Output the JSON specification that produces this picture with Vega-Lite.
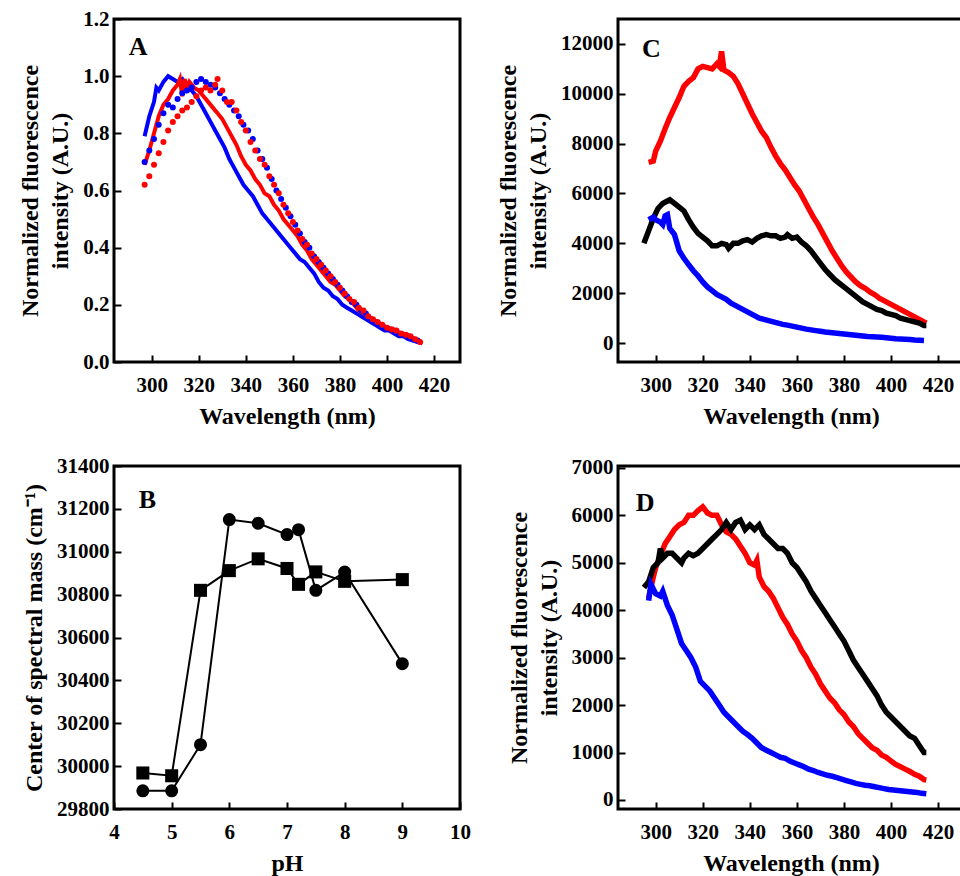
{
  "$schema": "https://vega.github.io/schema/vega-lite/v6.json",
  "background": "white",
  "padding": {"left": 17, "top": 6, "right": 0, "bottom": 0},
  "columns": 2,
  "bounds": "flush",
  "spacing": {"row": 104, "column": 158},
  "config": {
    "font": "Liberation Serif",
    "view": {"stroke": "black", "strokeWidth": 3},
    "axis": {
      "domain": false, "grid": false, "labelFlush": false,
      "tickSize": -7, "tickWidth": 2, "tickColor": "black",
      "labelFont": "Liberation Serif", "labelFontWeight": "bold", "labelFontSize": 21, "labelColor": "black",
      "titleFont": "Liberation Serif", "titleFontWeight": "bold", "titleFontSize": 24, "titleColor": "black",
      "titleLineHeight": 30
    },
    "axisX": {"labelPadding": 19, "titlePadding": 9},
    "axisY": {"labelPadding": 12, "titlePadding": 10},
    "text": {"font": "Liberation Serif", "fontWeight": "bold", "fontSize": 26, "align": "left", "baseline": "alphabetic", "color": "black"}
  },
  "datasets": {
    "A_lines": [
      {"s":"blue","wl":297,"v":0.79},{"s":"blue","wl":299,"v":0.86},{"s":"blue","wl":301,"v":0.91},{"s":"blue","wl":302,"v":0.96},{"s":"blue","wl":303,"v":0.95},{"s":"blue","wl":305,"v":0.98},{"s":"blue","wl":307,"v":1.0},{"s":"blue","wl":309,"v":0.99},{"s":"blue","wl":311,"v":0.98},{"s":"blue","wl":313,"v":0.99},{"s":"blue","wl":315,"v":0.96},{"s":"blue","wl":317,"v":0.95},{"s":"blue","wl":319,"v":0.93},{"s":"blue","wl":321,"v":0.9},{"s":"blue","wl":323,"v":0.87},{"s":"blue","wl":325,"v":0.84},{"s":"blue","wl":327,"v":0.81},{"s":"blue","wl":329,"v":0.78},{"s":"blue","wl":331,"v":0.75},{"s":"blue","wl":333,"v":0.71},{"s":"blue","wl":335,"v":0.68},{"s":"blue","wl":337,"v":0.65},{"s":"blue","wl":339,"v":0.62},{"s":"blue","wl":341,"v":0.6},{"s":"blue","wl":343,"v":0.58},{"s":"blue","wl":345,"v":0.55},{"s":"blue","wl":347,"v":0.52},{"s":"blue","wl":349,"v":0.5},{"s":"blue","wl":351,"v":0.48},{"s":"blue","wl":353,"v":0.46},{"s":"blue","wl":355,"v":0.44},{"s":"blue","wl":357,"v":0.42},{"s":"blue","wl":359,"v":0.4},{"s":"blue","wl":361,"v":0.38},{"s":"blue","wl":363,"v":0.36},{"s":"blue","wl":365,"v":0.35},{"s":"blue","wl":367,"v":0.33},{"s":"blue","wl":369,"v":0.31},{"s":"blue","wl":371,"v":0.28},{"s":"blue","wl":373,"v":0.26},{"s":"blue","wl":375,"v":0.25},{"s":"blue","wl":377,"v":0.23},{"s":"blue","wl":379,"v":0.22},{"s":"blue","wl":381,"v":0.2},{"s":"blue","wl":383,"v":0.19},{"s":"blue","wl":385,"v":0.18},{"s":"blue","wl":387,"v":0.17},{"s":"blue","wl":389,"v":0.16},{"s":"blue","wl":391,"v":0.15},{"s":"blue","wl":393,"v":0.14},{"s":"blue","wl":395,"v":0.13},{"s":"blue","wl":397,"v":0.12},{"s":"blue","wl":399,"v":0.11},{"s":"blue","wl":401,"v":0.11},{"s":"blue","wl":403,"v":0.1},{"s":"blue","wl":405,"v":0.09},{"s":"blue","wl":407,"v":0.09},{"s":"blue","wl":409,"v":0.08},{"s":"blue","wl":411,"v":0.075},{"s":"blue","wl":413,"v":0.07},{"s":"blue","wl":415,"v":0.065},
      {"s":"red","wl":297,"v":0.69},{"s":"red","wl":299,"v":0.74},{"s":"red","wl":301,"v":0.8},{"s":"red","wl":303,"v":0.86},{"s":"red","wl":305,"v":0.9},{"s":"red","wl":307,"v":0.92},{"s":"red","wl":309,"v":0.95},{"s":"red","wl":311,"v":0.97},{"s":"red","wl":312,"v":0.99},{"s":"red","wl":313,"v":0.93},{"s":"red","wl":314,"v":0.99},{"s":"red","wl":315,"v":0.96},{"s":"red","wl":316,"v":0.98},{"s":"red","wl":318,"v":0.96},{"s":"red","wl":320,"v":0.95},{"s":"red","wl":322,"v":0.93},{"s":"red","wl":324,"v":0.91},{"s":"red","wl":326,"v":0.89},{"s":"red","wl":328,"v":0.87},{"s":"red","wl":330,"v":0.85},{"s":"red","wl":332,"v":0.82},{"s":"red","wl":334,"v":0.79},{"s":"red","wl":336,"v":0.76},{"s":"red","wl":338,"v":0.72},{"s":"red","wl":340,"v":0.69},{"s":"red","wl":342,"v":0.67},{"s":"red","wl":344,"v":0.64},{"s":"red","wl":346,"v":0.62},{"s":"red","wl":348,"v":0.59},{"s":"red","wl":350,"v":0.58},{"s":"red","wl":352,"v":0.55},{"s":"red","wl":354,"v":0.53},{"s":"red","wl":356,"v":0.5},{"s":"red","wl":358,"v":0.48},{"s":"red","wl":360,"v":0.46},{"s":"red","wl":362,"v":0.44},{"s":"red","wl":364,"v":0.41},{"s":"red","wl":366,"v":0.39},{"s":"red","wl":368,"v":0.36},{"s":"red","wl":370,"v":0.34},{"s":"red","wl":372,"v":0.32},{"s":"red","wl":374,"v":0.3},{"s":"red","wl":376,"v":0.28},{"s":"red","wl":378,"v":0.27},{"s":"red","wl":380,"v":0.25},{"s":"red","wl":382,"v":0.23},{"s":"red","wl":384,"v":0.22},{"s":"red","wl":386,"v":0.2},{"s":"red","wl":388,"v":0.18},{"s":"red","wl":390,"v":0.17},{"s":"red","wl":392,"v":0.16},{"s":"red","wl":394,"v":0.15},{"s":"red","wl":396,"v":0.14},{"s":"red","wl":398,"v":0.13},{"s":"red","wl":400,"v":0.12},{"s":"red","wl":402,"v":0.11},{"s":"red","wl":404,"v":0.105},{"s":"red","wl":406,"v":0.1},{"s":"red","wl":408,"v":0.09},{"s":"red","wl":410,"v":0.085},{"s":"red","wl":412,"v":0.08},{"s":"red","wl":414,"v":0.07},{"s":"red","wl":415,"v":0.065}
    ],
    "A_dots": [
      {"s":"blue","wl":297,"v":0.7},{"s":"blue","wl":299,"v":0.74},{"s":"blue","wl":301,"v":0.78},{"s":"blue","wl":303,"v":0.83},{"s":"blue","wl":305,"v":0.87},{"s":"blue","wl":307,"v":0.9},{"s":"blue","wl":309,"v":0.89},{"s":"blue","wl":311,"v":0.92},{"s":"blue","wl":313,"v":0.94},{"s":"blue","wl":315,"v":0.95},{"s":"blue","wl":317,"v":0.96},{"s":"blue","wl":319,"v":0.98},{"s":"blue","wl":321,"v":0.99},{"s":"blue","wl":323,"v":0.98},{"s":"blue","wl":325,"v":0.97},{"s":"blue","wl":327,"v":0.96},{"s":"blue","wl":329,"v":0.94},{"s":"blue","wl":331,"v":0.92},{"s":"blue","wl":333,"v":0.9},{"s":"blue","wl":335,"v":0.88},{"s":"blue","wl":337,"v":0.86},{"s":"blue","wl":339,"v":0.83},{"s":"blue","wl":341,"v":0.81},{"s":"blue","wl":343,"v":0.78},{"s":"blue","wl":345,"v":0.74},{"s":"blue","wl":347,"v":0.71},{"s":"blue","wl":349,"v":0.68},{"s":"blue","wl":351,"v":0.64},{"s":"blue","wl":353,"v":0.6},{"s":"blue","wl":355,"v":0.57},{"s":"blue","wl":357,"v":0.54},{"s":"blue","wl":359,"v":0.51},{"s":"blue","wl":361,"v":0.48},{"s":"blue","wl":363,"v":0.45},{"s":"blue","wl":365,"v":0.42},{"s":"blue","wl":367,"v":0.4},{"s":"blue","wl":369,"v":0.37},{"s":"blue","wl":371,"v":0.35},{"s":"blue","wl":373,"v":0.33},{"s":"blue","wl":375,"v":0.31},{"s":"blue","wl":377,"v":0.29},{"s":"blue","wl":379,"v":0.27},{"s":"blue","wl":381,"v":0.25},{"s":"blue","wl":383,"v":0.23},{"s":"blue","wl":385,"v":0.21},{"s":"blue","wl":387,"v":0.2},{"s":"blue","wl":389,"v":0.18},{"s":"blue","wl":391,"v":0.17},{"s":"blue","wl":393,"v":0.15},{"s":"blue","wl":395,"v":0.14},{"s":"blue","wl":397,"v":0.13},{"s":"blue","wl":399,"v":0.12},{"s":"blue","wl":401,"v":0.115},{"s":"blue","wl":403,"v":0.11},{"s":"blue","wl":405,"v":0.1},{"s":"blue","wl":407,"v":0.095},{"s":"blue","wl":409,"v":0.09},{"s":"blue","wl":411,"v":0.08},{"s":"blue","wl":413,"v":0.075},
      {"s":"red","wl":297,"v":0.62},{"s":"red","wl":299,"v":0.65},{"s":"red","wl":301,"v":0.69},{"s":"red","wl":303,"v":0.73},{"s":"red","wl":305,"v":0.77},{"s":"red","wl":307,"v":0.81},{"s":"red","wl":309,"v":0.84},{"s":"red","wl":311,"v":0.86},{"s":"red","wl":313,"v":0.88},{"s":"red","wl":315,"v":0.89},{"s":"red","wl":317,"v":0.91},{"s":"red","wl":319,"v":0.93},{"s":"red","wl":321,"v":0.95},{"s":"red","wl":323,"v":0.96},{"s":"red","wl":325,"v":0.95},{"s":"red","wl":327,"v":0.97},{"s":"red","wl":328,"v":0.99},{"s":"red","wl":330,"v":0.95},{"s":"red","wl":332,"v":0.91},{"s":"red","wl":334,"v":0.91},{"s":"red","wl":336,"v":0.88},{"s":"red","wl":338,"v":0.84},{"s":"red","wl":340,"v":0.81},{"s":"red","wl":342,"v":0.77},{"s":"red","wl":344,"v":0.74},{"s":"red","wl":346,"v":0.71},{"s":"red","wl":348,"v":0.69},{"s":"red","wl":350,"v":0.65},{"s":"red","wl":352,"v":0.62},{"s":"red","wl":354,"v":0.59},{"s":"red","wl":356,"v":0.55},{"s":"red","wl":358,"v":0.52},{"s":"red","wl":360,"v":0.49},{"s":"red","wl":362,"v":0.46},{"s":"red","wl":364,"v":0.43},{"s":"red","wl":366,"v":0.41},{"s":"red","wl":368,"v":0.38},{"s":"red","wl":370,"v":0.36},{"s":"red","wl":372,"v":0.34},{"s":"red","wl":374,"v":0.32},{"s":"red","wl":376,"v":0.3},{"s":"red","wl":378,"v":0.28},{"s":"red","wl":380,"v":0.26},{"s":"red","wl":382,"v":0.24},{"s":"red","wl":384,"v":0.22},{"s":"red","wl":386,"v":0.21},{"s":"red","wl":388,"v":0.19},{"s":"red","wl":390,"v":0.18},{"s":"red","wl":392,"v":0.16},{"s":"red","wl":394,"v":0.15},{"s":"red","wl":396,"v":0.14},{"s":"red","wl":398,"v":0.13},{"s":"red","wl":400,"v":0.12},{"s":"red","wl":402,"v":0.115},{"s":"red","wl":404,"v":0.11},{"s":"red","wl":406,"v":0.1},{"s":"red","wl":408,"v":0.095},{"s":"red","wl":410,"v":0.09},{"s":"red","wl":412,"v":0.08},{"s":"red","wl":414,"v":0.07}
    ],
    "C": [
      {"s":"red","wl":297,"v":7250},{"s":"red","wl":299,"v":7300},{"s":"red","wl":300,"v":7700},{"s":"red","wl":302,"v":8100},{"s":"red","wl":304,"v":8600},{"s":"red","wl":306,"v":9050},{"s":"red","wl":308,"v":9450},{"s":"red","wl":310,"v":9850},{"s":"red","wl":312,"v":10300},{"s":"red","wl":314,"v":10500},{"s":"red","wl":316,"v":10650},{"s":"red","wl":318,"v":11000},{"s":"red","wl":320,"v":11100},{"s":"red","wl":322,"v":11050},{"s":"red","wl":324,"v":11000},{"s":"red","wl":326,"v":11200},{"s":"red","wl":327,"v":11100},{"s":"red","wl":328,"v":11700},{"s":"red","wl":329,"v":10950},{"s":"red","wl":331,"v":10850},{"s":"red","wl":333,"v":10700},{"s":"red","wl":335,"v":10400},{"s":"red","wl":337,"v":10000},{"s":"red","wl":339,"v":9600},{"s":"red","wl":341,"v":9200},{"s":"red","wl":343,"v":8850},{"s":"red","wl":345,"v":8500},{"s":"red","wl":347,"v":8250},{"s":"red","wl":349,"v":7850},{"s":"red","wl":351,"v":7500},{"s":"red","wl":353,"v":7200},{"s":"red","wl":355,"v":6950},{"s":"red","wl":357,"v":6650},{"s":"red","wl":359,"v":6350},{"s":"red","wl":361,"v":6100},{"s":"red","wl":363,"v":5750},{"s":"red","wl":365,"v":5400},{"s":"red","wl":367,"v":5050},{"s":"red","wl":369,"v":4750},{"s":"red","wl":371,"v":4400},{"s":"red","wl":373,"v":4050},{"s":"red","wl":375,"v":3700},{"s":"red","wl":377,"v":3400},{"s":"red","wl":379,"v":3100},{"s":"red","wl":381,"v":2850},{"s":"red","wl":383,"v":2650},{"s":"red","wl":385,"v":2450},{"s":"red","wl":387,"v":2300},{"s":"red","wl":389,"v":2200},{"s":"red","wl":391,"v":2050},{"s":"red","wl":393,"v":1950},{"s":"red","wl":395,"v":1800},{"s":"red","wl":397,"v":1700},{"s":"red","wl":399,"v":1600},{"s":"red","wl":401,"v":1500},{"s":"red","wl":403,"v":1400},{"s":"red","wl":405,"v":1300},{"s":"red","wl":407,"v":1200},{"s":"red","wl":409,"v":1100},{"s":"red","wl":411,"v":1000},{"s":"red","wl":413,"v":900},{"s":"red","wl":415,"v":800},
      {"s":"black","wl":295,"v":4000},{"s":"black","wl":297,"v":4500},{"s":"black","wl":299,"v":5000},{"s":"black","wl":301,"v":5400},{"s":"black","wl":303,"v":5600},{"s":"black","wl":305,"v":5700},{"s":"black","wl":306,"v":5750},{"s":"black","wl":308,"v":5600},{"s":"black","wl":310,"v":5450},{"s":"black","wl":312,"v":5300},{"s":"black","wl":314,"v":4950},{"s":"black","wl":316,"v":4650},{"s":"black","wl":318,"v":4400},{"s":"black","wl":320,"v":4250},{"s":"black","wl":322,"v":4100},{"s":"black","wl":324,"v":3900},{"s":"black","wl":326,"v":3900},{"s":"black","wl":328,"v":4000},{"s":"black","wl":330,"v":3950},{"s":"black","wl":331,"v":3800},{"s":"black","wl":333,"v":4000},{"s":"black","wl":335,"v":4000},{"s":"black","wl":337,"v":4100},{"s":"black","wl":339,"v":4150},{"s":"black","wl":341,"v":4050},{"s":"black","wl":343,"v":4200},{"s":"black","wl":345,"v":4300},{"s":"black","wl":347,"v":4350},{"s":"black","wl":349,"v":4300},{"s":"black","wl":351,"v":4300},{"s":"black","wl":353,"v":4200},{"s":"black","wl":355,"v":4250},{"s":"black","wl":356,"v":4350},{"s":"black","wl":358,"v":4200},{"s":"black","wl":360,"v":4250},{"s":"black","wl":362,"v":4050},{"s":"black","wl":364,"v":3900},{"s":"black","wl":366,"v":3700},{"s":"black","wl":368,"v":3450},{"s":"black","wl":370,"v":3200},{"s":"black","wl":372,"v":2950},{"s":"black","wl":374,"v":2750},{"s":"black","wl":376,"v":2550},{"s":"black","wl":378,"v":2400},{"s":"black","wl":380,"v":2250},{"s":"black","wl":382,"v":2100},{"s":"black","wl":384,"v":1950},{"s":"black","wl":386,"v":1800},{"s":"black","wl":388,"v":1650},{"s":"black","wl":390,"v":1550},{"s":"black","wl":392,"v":1450},{"s":"black","wl":394,"v":1350},{"s":"black","wl":396,"v":1300},{"s":"black","wl":398,"v":1200},{"s":"black","wl":400,"v":1150},{"s":"black","wl":402,"v":1100},{"s":"black","wl":404,"v":1000},{"s":"black","wl":406,"v":950},{"s":"black","wl":408,"v":900},{"s":"black","wl":410,"v":850},{"s":"black","wl":412,"v":800},{"s":"black","wl":414,"v":700},{"s":"black","wl":415,"v":700},
      {"s":"blue","wl":297,"v":4950},{"s":"blue","wl":299,"v":5050},{"s":"blue","wl":300,"v":4950},{"s":"blue","wl":302,"v":4850},{"s":"blue","wl":303,"v":4750},{"s":"blue","wl":304,"v":5100},{"s":"blue","wl":305,"v":5150},{"s":"blue","wl":306,"v":4600},{"s":"blue","wl":308,"v":4350},{"s":"blue","wl":310,"v":3700},{"s":"blue","wl":312,"v":3400},{"s":"blue","wl":314,"v":3150},{"s":"blue","wl":316,"v":2900},{"s":"blue","wl":318,"v":2700},{"s":"blue","wl":320,"v":2450},{"s":"blue","wl":322,"v":2250},{"s":"blue","wl":324,"v":2100},{"s":"blue","wl":326,"v":1950},{"s":"blue","wl":328,"v":1850},{"s":"blue","wl":330,"v":1750},{"s":"blue","wl":332,"v":1600},{"s":"blue","wl":334,"v":1500},{"s":"blue","wl":336,"v":1400},{"s":"blue","wl":338,"v":1300},{"s":"blue","wl":340,"v":1200},{"s":"blue","wl":342,"v":1100},{"s":"blue","wl":344,"v":1000},{"s":"blue","wl":346,"v":950},{"s":"blue","wl":348,"v":900},{"s":"blue","wl":350,"v":850},{"s":"blue","wl":352,"v":800},{"s":"blue","wl":354,"v":750},{"s":"blue","wl":356,"v":720},{"s":"blue","wl":358,"v":680},{"s":"blue","wl":360,"v":640},{"s":"blue","wl":362,"v":600},{"s":"blue","wl":364,"v":560},{"s":"blue","wl":366,"v":530},{"s":"blue","wl":368,"v":500},{"s":"blue","wl":370,"v":470},{"s":"blue","wl":372,"v":440},{"s":"blue","wl":374,"v":420},{"s":"blue","wl":376,"v":400},{"s":"blue","wl":378,"v":380},{"s":"blue","wl":380,"v":360},{"s":"blue","wl":382,"v":340},{"s":"blue","wl":384,"v":320},{"s":"blue","wl":386,"v":300},{"s":"blue","wl":388,"v":280},{"s":"blue","wl":390,"v":260},{"s":"blue","wl":392,"v":250},{"s":"blue","wl":394,"v":240},{"s":"blue","wl":396,"v":230},{"s":"blue","wl":398,"v":210},{"s":"blue","wl":400,"v":190},{"s":"blue","wl":402,"v":170},{"s":"blue","wl":404,"v":160},{"s":"blue","wl":406,"v":150},{"s":"blue","wl":408,"v":140},{"s":"blue","wl":410,"v":120},{"s":"blue","wl":412,"v":110},{"s":"blue","wl":414,"v":100}
    ],
    "B": [
      {"s":"circle","pH":4.5,"v":29885},{"s":"circle","pH":5,"v":29885},{"s":"circle","pH":5.5,"v":30100},{"s":"circle","pH":6,"v":31150},{"s":"circle","pH":6.5,"v":31133},{"s":"circle","pH":7,"v":31080},{"s":"circle","pH":7.2,"v":31103},{"s":"circle","pH":7.5,"v":30820},{"s":"circle","pH":8,"v":30905},{"s":"circle","pH":9,"v":30478},
      {"s":"square","pH":4.5,"v":29968},{"s":"square","pH":5,"v":29955},{"s":"square","pH":5.5,"v":30820},{"s":"square","pH":6,"v":30912},{"s":"square","pH":6.5,"v":30967},{"s":"square","pH":7,"v":30922},{"s":"square","pH":7.2,"v":30848},{"s":"square","pH":7.5,"v":30906},{"s":"square","pH":8,"v":30862},{"s":"square","pH":9,"v":30870}
    ],
    "D": [
      {"s":"red","wl":297,"v":4250},{"s":"red","wl":299,"v":4700},{"s":"red","wl":300,"v":4900},{"s":"red","wl":302,"v":5150},{"s":"red","wl":304,"v":5400},{"s":"red","wl":306,"v":5550},{"s":"red","wl":308,"v":5700},{"s":"red","wl":310,"v":5800},{"s":"red","wl":312,"v":5850},{"s":"red","wl":314,"v":6000},{"s":"red","wl":316,"v":6000},{"s":"red","wl":318,"v":6100},{"s":"red","wl":320,"v":6180},{"s":"red","wl":322,"v":6050},{"s":"red","wl":324,"v":6000},{"s":"red","wl":326,"v":6000},{"s":"red","wl":328,"v":5800},{"s":"red","wl":330,"v":5650},{"s":"red","wl":332,"v":5600},{"s":"red","wl":334,"v":5500},{"s":"red","wl":336,"v":5350},{"s":"red","wl":338,"v":5200},{"s":"red","wl":340,"v":5000},{"s":"red","wl":342,"v":4950},{"s":"red","wl":343,"v":5050},{"s":"red","wl":344,"v":4700},{"s":"red","wl":346,"v":4500},{"s":"red","wl":348,"v":4400},{"s":"red","wl":350,"v":4250},{"s":"red","wl":352,"v":4050},{"s":"red","wl":354,"v":3850},{"s":"red","wl":356,"v":3700},{"s":"red","wl":358,"v":3500},{"s":"red","wl":360,"v":3350},{"s":"red","wl":362,"v":3150},{"s":"red","wl":364,"v":3000},{"s":"red","wl":366,"v":2800},{"s":"red","wl":368,"v":2650},{"s":"red","wl":370,"v":2450},{"s":"red","wl":372,"v":2300},{"s":"red","wl":374,"v":2150},{"s":"red","wl":376,"v":2050},{"s":"red","wl":378,"v":1900},{"s":"red","wl":380,"v":1800},{"s":"red","wl":382,"v":1650},{"s":"red","wl":384,"v":1550},{"s":"red","wl":386,"v":1400},{"s":"red","wl":388,"v":1300},{"s":"red","wl":390,"v":1200},{"s":"red","wl":392,"v":1100},{"s":"red","wl":394,"v":1050},{"s":"red","wl":396,"v":950},{"s":"red","wl":398,"v":900},{"s":"red","wl":400,"v":820},{"s":"red","wl":402,"v":750},{"s":"red","wl":404,"v":700},{"s":"red","wl":406,"v":650},{"s":"red","wl":408,"v":600},{"s":"red","wl":410,"v":540},{"s":"red","wl":412,"v":500},{"s":"red","wl":414,"v":430},{"s":"red","wl":415,"v":420},
      {"s":"black","wl":295,"v":4480},{"s":"black","wl":297,"v":4600},{"s":"black","wl":299,"v":4900},{"s":"black","wl":301,"v":5000},{"s":"black","wl":302,"v":5300},{"s":"black","wl":303,"v":5100},{"s":"black","wl":305,"v":5200},{"s":"black","wl":307,"v":5200},{"s":"black","wl":309,"v":5100},{"s":"black","wl":311,"v":5000},{"s":"black","wl":312,"v":5100},{"s":"black","wl":314,"v":5200},{"s":"black","wl":316,"v":5150},{"s":"black","wl":318,"v":5200},{"s":"black","wl":320,"v":5300},{"s":"black","wl":322,"v":5400},{"s":"black","wl":324,"v":5500},{"s":"black","wl":326,"v":5600},{"s":"black","wl":328,"v":5700},{"s":"black","wl":330,"v":5850},{"s":"black","wl":332,"v":5700},{"s":"black","wl":334,"v":5850},{"s":"black","wl":336,"v":5900},{"s":"black","wl":338,"v":5700},{"s":"black","wl":340,"v":5800},{"s":"black","wl":342,"v":5700},{"s":"black","wl":344,"v":5800},{"s":"black","wl":346,"v":5600},{"s":"black","wl":348,"v":5500},{"s":"black","wl":350,"v":5400},{"s":"black","wl":352,"v":5300},{"s":"black","wl":354,"v":5300},{"s":"black","wl":356,"v":5200},{"s":"black","wl":358,"v":5000},{"s":"black","wl":360,"v":4900},{"s":"black","wl":362,"v":4750},{"s":"black","wl":364,"v":4600},{"s":"black","wl":366,"v":4400},{"s":"black","wl":368,"v":4250},{"s":"black","wl":370,"v":4100},{"s":"black","wl":372,"v":3950},{"s":"black","wl":374,"v":3800},{"s":"black","wl":376,"v":3650},{"s":"black","wl":378,"v":3500},{"s":"black","wl":380,"v":3350},{"s":"black","wl":382,"v":3150},{"s":"black","wl":384,"v":2950},{"s":"black","wl":386,"v":2800},{"s":"black","wl":388,"v":2650},{"s":"black","wl":390,"v":2500},{"s":"black","wl":392,"v":2350},{"s":"black","wl":394,"v":2200},{"s":"black","wl":396,"v":2000},{"s":"black","wl":398,"v":1850},{"s":"black","wl":400,"v":1750},{"s":"black","wl":402,"v":1650},{"s":"black","wl":404,"v":1550},{"s":"black","wl":406,"v":1450},{"s":"black","wl":408,"v":1350},{"s":"black","wl":410,"v":1300},{"s":"black","wl":412,"v":1150},{"s":"black","wl":414,"v":1000},{"s":"black","wl":415,"v":1000},
      {"s":"blue","wl":297,"v":4200},{"s":"blue","wl":298,"v":4550},{"s":"blue","wl":300,"v":4350},{"s":"blue","wl":302,"v":4300},{"s":"blue","wl":303,"v":4400},{"s":"blue","wl":305,"v":4100},{"s":"blue","wl":307,"v":3900},{"s":"blue","wl":309,"v":3600},{"s":"blue","wl":311,"v":3300},{"s":"blue","wl":313,"v":3150},{"s":"blue","wl":315,"v":3000},{"s":"blue","wl":317,"v":2800},{"s":"blue","wl":319,"v":2500},{"s":"blue","wl":321,"v":2400},{"s":"blue","wl":323,"v":2300},{"s":"blue","wl":325,"v":2150},{"s":"blue","wl":327,"v":2000},{"s":"blue","wl":329,"v":1850},{"s":"blue","wl":331,"v":1750},{"s":"blue","wl":333,"v":1650},{"s":"blue","wl":335,"v":1550},{"s":"blue","wl":337,"v":1450},{"s":"blue","wl":339,"v":1380},{"s":"blue","wl":341,"v":1300},{"s":"blue","wl":343,"v":1200},{"s":"blue","wl":345,"v":1100},{"s":"blue","wl":347,"v":1050},{"s":"blue","wl":349,"v":1000},{"s":"blue","wl":351,"v":950},{"s":"blue","wl":353,"v":900},{"s":"blue","wl":355,"v":880},{"s":"blue","wl":357,"v":820},{"s":"blue","wl":359,"v":780},{"s":"blue","wl":361,"v":740},{"s":"blue","wl":363,"v":700},{"s":"blue","wl":365,"v":650},{"s":"blue","wl":367,"v":620},{"s":"blue","wl":369,"v":580},{"s":"blue","wl":371,"v":550},{"s":"blue","wl":373,"v":520},{"s":"blue","wl":375,"v":500},{"s":"blue","wl":377,"v":470},{"s":"blue","wl":379,"v":440},{"s":"blue","wl":381,"v":410},{"s":"blue","wl":383,"v":380},{"s":"blue","wl":385,"v":350},{"s":"blue","wl":387,"v":330},{"s":"blue","wl":389,"v":310},{"s":"blue","wl":391,"v":300},{"s":"blue","wl":393,"v":280},{"s":"blue","wl":395,"v":260},{"s":"blue","wl":397,"v":240},{"s":"blue","wl":399,"v":220},{"s":"blue","wl":401,"v":210},{"s":"blue","wl":403,"v":200},{"s":"blue","wl":405,"v":190},{"s":"blue","wl":407,"v":180},{"s":"blue","wl":409,"v":170},{"s":"blue","wl":411,"v":160},{"s":"blue","wl":413,"v":140},{"s":"blue","wl":415,"v":130}
    ]
  },
  "concat": [
    {
      "width": 346, "height": 343,
      "layer": [
        {
          "data": {"name": "A_lines"},
          "mark": {"type": "line", "strokeWidth": 4},
          "encoding": {
            "x": {"field": "wl", "type": "quantitative", "scale": {"domain": [284, 431], "nice": false, "zero": false}, "axis": {"values": [300, 320, 340, 360, 380, 400, 420], "format": "d", "title": "Wavelength (nm)"}},
            "y": {"field": "v", "type": "quantitative", "scale": {"domain": [0, 1.2], "nice": false}, "axis": {"values": [0, 0.2, 0.4, 0.6, 0.8, 1.0, 1.2], "format": ".1f", "title": ["Normalized fluorescence", "intensity (A.U.)"]}},
            "color": {"field": "s", "type": "nominal", "scale": {"domain": ["red", "black", "blue"], "range": ["#ff0000", "#000000", "#0000ff"]}, "legend": null}
          }
        },
        {
          "data": {"name": "A_dots"},
          "mark": {"type": "circle", "size": 36, "opacity": 1},
          "encoding": {
            "x": {"field": "wl", "type": "quantitative"},
            "y": {"field": "v", "type": "quantitative"},
            "color": {"field": "s", "type": "nominal", "legend": null}
          }
        },
        {
          "data": {"values": [{"t": "A"}]},
          "mark": {"type": "text"},
          "encoding": {"x": {"datum": 290.3}, "y": {"datum": 1.074}, "text": {"field": "t"}}
        }
      ]
    },
    {
      "width": 346, "height": 343,
      "layer": [
        {
          "data": {"name": "C"},
          "mark": {"type": "line", "strokeWidth": 5.5},
          "encoding": {
            "x": {"field": "wl", "type": "quantitative", "scale": {"domain": [284, 431], "nice": false, "zero": false}, "axis": {"values": [300, 320, 340, 360, 380, 400, 420], "format": "d", "title": "Wavelength (nm)"}},
            "y": {"field": "v", "type": "quantitative", "scale": {"domain": [-760, 13000], "nice": false, "zero": false}, "axis": {"values": [0, 2000, 4000, 6000, 8000, 10000, 12000], "format": "d", "title": ["Normalized fluorescence", "intensity (A.U.)"]}},
            "color": {"field": "s", "type": "nominal", "scale": {"domain": ["red", "black", "blue"], "range": ["#ff0000", "#000000", "#0000ff"]}, "legend": null}
          }
        },
        {
          "data": {"values": [{"t": "C"}]},
          "mark": {"type": "text"},
          "encoding": {"x": {"datum": 294.2}, "y": {"datum": 11477}, "text": {"field": "t"}}
        }
      ]
    },
    {
      "width": 346, "height": 343,
      "layer": [
        {
          "data": {"name": "B"},
          "mark": {"type": "line", "strokeWidth": 2, "color": "black"},
          "encoding": {
            "x": {"field": "pH", "type": "quantitative", "scale": {"domain": [4, 10], "nice": false, "zero": false}, "axis": {"values": [4, 5, 6, 7, 8, 9, 10], "format": "d", "title": "pH"}},
            "y": {"field": "v", "type": "quantitative", "scale": {"domain": [29800, 31400], "nice": false, "zero": false}, "axis": {"values": [29800, 30000, 30200, 30400, 30600, 30800, 31000, 31200, 31400], "format": "d", "title": "Center of spectral mass (cm⁻¹)"}},
            "detail": {"field": "s", "type": "nominal"}
          }
        },
        {
          "data": {"name": "B"},
          "mark": {"type": "point", "filled": true, "color": "black", "opacity": 1, "size": 170},
          "encoding": {
            "x": {"field": "pH", "type": "quantitative"},
            "y": {"field": "v", "type": "quantitative"},
            "shape": {"field": "s", "type": "nominal", "scale": {"domain": ["circle", "square"], "range": ["circle", "square"]}, "legend": null}
          }
        },
        {
          "data": {"values": [{"t": "B"}]},
          "mark": {"type": "text"},
          "encoding": {"x": {"datum": 4.43}, "y": {"datum": 31205}, "text": {"field": "t"}}
        }
      ]
    },
    {
      "width": 346, "height": 343,
      "layer": [
        {
          "data": {"name": "D"},
          "mark": {"type": "line", "strokeWidth": 5.5},
          "encoding": {
            "x": {"field": "wl", "type": "quantitative", "scale": {"domain": [284, 431], "nice": false, "zero": false}, "axis": {"values": [300, 320, 340, 360, 380, 400, 420], "format": "d", "title": "Wavelength (nm)"}},
            "y": {"field": "v", "type": "quantitative", "scale": {"domain": [-190, 7040], "nice": false, "zero": false}, "axis": {"values": [0, 1000, 2000, 3000, 4000, 5000, 6000, 7000], "format": "d", "title": ["Normalized fluorescence", "intensity (A.U.)"]}},
            "color": {"field": "s", "type": "nominal", "scale": {"domain": ["red", "black", "blue"], "range": ["#ff0000", "#000000", "#0000ff"]}, "legend": null}
          }
        },
        {
          "data": {"values": [{"t": "D"}]},
          "mark": {"type": "text"},
          "encoding": {"x": {"datum": 291.5}, "y": {"datum": 6093}, "text": {"field": "t"}}
        }
      ]
    }
  ]
}
